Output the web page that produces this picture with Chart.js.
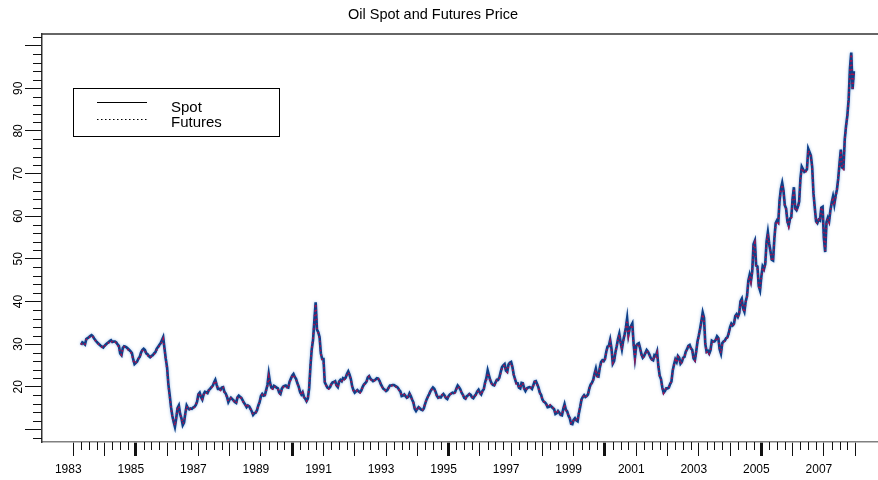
<!DOCTYPE html>
<html>
<head>
<meta charset="utf-8">
<title>Oil Spot and Futures Price</title>
<script src="https://cdn.jsdelivr.net/npm/chart.js@4.4.1/dist/chart.umd.min.js"></script>
<style>
  html, body { margin: 0; padding: 0; background: #fff; }
</style>
</head>
<body>
<canvas id="oil_chart" width="878" height="480"></canvas>
<script>
"use strict";

// half-month samples, first one is April 1983
var startYear = 1983.25;
var yearTicks = [1983, 1984, 1985, 1986, 1987, 1988, 1989, 1990, 1991, 1992, 1993, 1994, 1995,
                 1996, 1997, 1998, 1999, 2000, 2001, 2002, 2003, 2004, 2005, 2006, 2007, 2008];
var yearLabels = [1983, 1985, 1987, 1989, 1991, 1993, 1995, 1997, 1999, 2001, 2003, 2005, 2007];
var priceTicks = [10, 20, 30, 40, 50, 60, 70, 80, 90, 100];
var priceLabels = [20, 30, 40, 50, 60, 70, 80, 90];

var spot = [
    29.8, 30.4, 30.2, 29.9, 31.2, 31.4, 31.6, 31.9, 32.1, 31.8, 31.3, 30.9, 30.5, 30.2, 29.9, 29.6, 29.4, 29.2,
    29.6, 29.9, 30.2, 30.4, 30.7, 30.9, 30.5, 30.6, 30.6, 30.4, 29.9, 29.6, 27.8, 27.4, 29.1, 29.5, 29.4, 29.2, 28.9, 28.6, 28.3, 27.9, 26.4, 25.3,
    25.6, 25.9, 26.6, 27.0, 28.0, 28.6, 28.9, 28.6, 27.8, 27.6, 27.2, 26.9, 27.2, 27.4, 27.8, 28.1, 28.9, 29.3, 29.8, 30.2, 30.9, 31.6, 29.0, 26.5,
    24.5, 20.5, 18.0, 15.2, 13.2, 11.8, 10.6, 12.6, 15.0, 15.6, 13.6, 12.6, 11.0, 11.6, 13.8, 15.6, 15.0, 14.7, 14.9, 14.8, 15.1, 15.3, 15.7, 16.5,
    18.2, 18.6, 17.6, 17.0, 18.2, 18.8, 18.7, 18.5, 19.2, 19.5, 19.9, 20.2, 21.0, 21.6, 20.5, 19.5, 19.5, 19.3, 19.8, 19.9, 18.8, 18.4, 17.6, 16.4,
    17.0, 17.4, 17.1, 16.8, 16.4, 16.2, 17.5, 17.9, 17.6, 17.4, 16.8, 16.2, 15.8, 15.2, 15.6, 15.4, 14.8, 14.2, 13.4, 13.8, 13.9, 14.5, 15.6, 16.4,
    17.8, 18.3, 17.9, 18.0, 19.2, 20.4, 23.0, 20.9, 19.8, 19.6, 20.2, 20.0, 19.8, 19.6, 18.6, 18.3, 19.5, 20.0, 20.2, 20.3, 19.9, 19.8, 21.2, 21.9,
    22.6, 23.0, 22.3, 21.8, 20.8, 20.0, 18.8, 18.2, 18.7, 17.6, 17.2, 16.6, 17.2, 19.6, 24.8, 28.8, 31.0, 35.5, 39.8, 33.4, 32.8, 31.6, 27.8, 26.5,
    26.5, 21.0, 20.4, 19.8, 19.6, 19.9, 20.6, 21.0, 21.1, 21.3, 20.3, 19.9, 21.2, 21.6, 21.3, 22.0, 21.8, 22.1, 23.0, 23.6, 22.8, 21.8, 20.1, 19.2,
    18.6, 18.9, 19.2, 18.9, 18.7, 19.1, 19.9, 20.5, 20.8, 21.2, 22.2, 22.5, 21.9, 21.6, 21.3, 21.5, 21.7, 22.0, 21.9, 21.4, 20.6, 20.0, 19.5, 19.3,
    19.0, 19.2, 19.8, 20.3, 20.3, 20.4, 20.4, 20.2, 20.0, 19.8, 19.3, 18.9, 17.8, 17.9, 18.2, 17.8, 17.4, 17.6, 18.4, 17.8, 17.0, 16.3, 14.8, 14.3,
    14.8, 15.2, 14.9, 14.6, 14.5, 14.9, 16.0, 16.9, 17.6, 18.2, 18.9, 19.4, 19.8, 19.5, 18.8, 17.9, 17.4, 17.6, 17.5, 18.0, 18.3, 17.9, 17.3, 17.1,
    17.8, 18.2, 18.4, 18.6, 18.5, 18.7, 19.6, 20.3, 19.9, 19.4, 18.6, 18.1, 17.4, 17.2, 17.8, 18.0, 18.3, 18.1, 17.5, 17.3, 17.8, 18.2, 18.9, 19.3,
    18.6, 18.2, 19.0, 19.4, 21.0, 22.0, 23.8, 22.6, 21.5, 20.8, 20.4, 20.3, 21.0, 21.6, 21.6, 22.2, 23.5, 24.6, 25.0, 25.3, 23.8, 23.5, 25.2, 25.6,
    25.8, 24.6, 22.8, 21.8, 20.8, 20.8, 19.8, 19.6, 20.9, 20.8, 19.6, 19.0, 19.6, 19.8, 19.9, 19.8, 19.5, 20.3, 21.2, 21.3, 20.6, 19.8, 18.6, 18.1,
    17.0, 16.5, 16.3, 15.9, 15.2, 15.3, 15.6, 15.3, 15.0, 14.7, 13.6, 13.8, 14.3, 13.9, 13.4, 13.3, 14.8, 15.9, 14.6, 14.2, 13.2, 12.6, 11.3, 11.2,
    12.2, 12.6, 12.1, 11.9, 13.8, 15.3, 17.0, 17.6, 18.0, 17.6, 17.8, 18.2, 19.6, 20.5, 20.9, 21.6, 23.0, 24.2, 22.5, 22.4, 24.4, 25.8, 26.2, 26.0,
    26.5, 28.2, 29.4, 29.6, 31.0, 29.0, 25.4, 26.0, 28.0, 29.5, 31.2, 32.4, 30.4, 28.8, 30.8, 32.2, 33.8, 36.0, 32.2, 33.8, 34.2, 34.8, 30.0, 26.8,
    29.6, 30.0, 30.2, 29.0, 27.6, 26.8, 27.2, 27.9, 28.6, 28.2, 27.6, 26.8, 26.4, 26.2, 27.4, 27.2, 28.2, 24.8, 22.6, 21.8, 19.8, 18.6, 19.0, 19.6,
    19.6, 19.8, 20.6, 21.2, 23.8, 25.2, 26.4, 25.8, 27.2, 26.8, 25.4, 25.8, 26.8, 27.0, 28.2, 28.8, 29.6, 29.8, 29.0, 28.6, 26.6, 26.2, 28.2, 30.6,
    32.0, 33.6, 35.4, 37.4, 36.2, 30.0, 28.2, 28.4, 27.8, 28.6, 30.8, 30.6, 30.6, 31.0, 31.8, 31.4, 28.8, 27.8, 30.2, 30.6, 30.8, 31.4, 31.6, 32.6,
    34.0, 34.8, 34.4, 34.8, 36.6, 37.0, 36.4, 37.2, 40.0, 40.6, 38.4, 37.6, 40.0, 41.2, 44.8, 46.2, 44.8, 47.0, 53.4, 54.2, 48.4, 48.2, 43.6, 42.6,
    45.8, 48.2, 47.6, 48.8, 54.0, 56.2, 53.6, 51.8, 49.8, 49.6, 54.8, 58.4, 59.0, 58.6, 63.8, 66.4, 67.8, 66.0, 62.6, 61.8, 58.8, 57.8, 59.4, 59.8,
    64.2, 66.8, 61.8, 61.4, 62.2, 63.4, 68.8, 71.6, 71.0, 70.4, 70.6, 71.0, 75.8, 75.0, 74.2, 71.6, 65.4, 62.0, 58.8, 58.4, 59.2, 59.0, 62.0, 62.2,
    54.8, 51.6, 58.6, 59.6, 58.8, 61.4, 63.2, 64.6, 62.8, 64.8, 66.2, 68.8, 72.4, 75.6, 71.4, 71.2, 78.0, 81.2, 83.6, 87.4, 94.6, 98.4, 89.8, 94.0
];

var futures = [
    29.9, 30.3, 30.1, 30.0, 31.0, 31.5, 31.5, 31.8, 32.0, 31.7, 31.2, 30.8, 30.4, 30.1, 29.8, 29.5, 29.3, 29.1,
    29.5, 29.8, 30.1, 30.3, 30.6, 30.8, 30.4, 30.5, 30.5, 30.2, 29.7, 29.4, 27.9, 27.5, 28.9, 29.3, 29.2, 29.0, 28.7, 28.4, 28.1, 27.6, 26.2, 25.4,
    25.7, 26.0, 26.5, 26.9, 27.8, 28.4, 28.7, 28.4, 27.6, 27.4, 27.0, 26.8, 27.1, 27.3, 27.6, 28.0, 28.6, 29.0, 29.5, 29.9, 30.5, 31.2, 28.6, 26.2,
    24.0, 20.2, 17.6, 15.0, 13.0, 11.9, 10.9, 12.8, 15.2, 15.4, 13.4, 12.8, 11.3, 11.8, 13.6, 15.4, 14.8, 14.6, 14.8, 14.9, 15.0, 15.2, 15.8, 16.4,
    18.1, 18.5, 17.5, 17.1, 18.1, 18.7, 18.6, 18.4, 19.1, 19.3, 19.8, 20.1, 20.8, 21.4, 20.4, 19.6, 19.4, 19.2, 19.7, 19.8, 18.7, 18.3, 17.5, 16.6,
    17.1, 17.3, 17.0, 16.7, 16.3, 16.1, 17.4, 17.7, 17.5, 17.3, 16.7, 16.0, 15.7, 15.1, 15.5, 15.3, 14.7, 14.1, 13.6, 13.9, 14.0, 14.6, 15.5, 16.3,
    17.7, 18.1, 17.8, 17.9, 19.0, 20.2, 22.4, 20.7, 19.7, 19.5, 20.1, 19.9, 19.7, 19.5, 18.5, 18.2, 19.4, 19.9, 20.1, 20.2, 19.8, 19.7, 21.0, 21.7,
    22.4, 22.8, 22.2, 21.7, 20.7, 19.9, 18.7, 18.1, 18.6, 17.5, 17.1, 16.7, 17.3, 19.8, 25.2, 29.0, 31.4, 35.8, 39.4, 33.8, 32.6, 31.4, 27.6, 26.2,
    25.8, 21.2, 20.3, 19.7, 19.5, 19.8, 20.5, 20.9, 21.0, 21.2, 20.2, 19.8, 21.1, 21.5, 21.2, 21.9, 21.7, 22.0, 22.8, 23.4, 22.7, 21.7, 20.0, 19.1,
    18.7, 18.9, 19.1, 18.8, 18.6, 19.0, 19.8, 20.4, 20.7, 21.1, 22.1, 22.4, 21.8, 21.5, 21.2, 21.4, 21.6, 21.9, 21.8, 21.3, 20.5, 19.9, 19.4, 19.2,
    19.1, 19.3, 19.7, 20.2, 20.2, 20.3, 20.3, 20.1, 19.9, 19.7, 19.2, 18.8, 17.9, 18.0, 18.1, 17.7, 17.5, 17.7, 18.3, 17.7, 16.9, 16.2, 14.9, 14.5,
    14.9, 15.3, 14.8, 14.5, 14.6, 15.0, 16.1, 17.0, 17.5, 18.1, 18.8, 19.3, 19.6, 19.3, 18.6, 17.8, 17.3, 17.5, 17.6, 18.1, 18.2, 17.8, 17.4, 17.2,
    17.9, 18.3, 18.3, 18.5, 18.4, 18.6, 19.4, 20.1, 19.8, 19.3, 18.5, 18.0, 17.5, 17.3, 17.7, 17.9, 18.2, 18.0, 17.6, 17.4, 17.7, 18.1, 18.7, 19.1,
    18.5, 18.1, 18.9, 19.3, 20.6, 21.6, 23.2, 22.3, 21.3, 20.7, 20.3, 20.2, 20.9, 21.5, 21.5, 22.0, 23.2, 24.3, 24.8, 25.1, 23.7, 23.4, 25.0, 25.4,
    25.6, 24.4, 22.6, 21.7, 20.7, 20.7, 19.9, 19.7, 20.8, 20.7, 19.5, 19.1, 19.5, 19.7, 19.8, 19.7, 19.6, 20.2, 21.1, 21.2, 20.5, 19.7, 18.5, 18.0,
    17.1, 16.6, 16.2, 15.8, 15.3, 15.4, 15.7, 15.4, 15.1, 14.8, 13.7, 13.9, 14.2, 13.8, 13.5, 13.4, 14.7, 15.8, 14.5, 14.1, 13.3, 12.7, 11.4, 11.5,
    12.3, 12.5, 12.2, 12.0, 14.0, 15.4, 16.9, 17.5, 17.9, 17.5, 17.9, 18.3, 19.5, 20.4, 20.8, 21.5, 22.8, 24.0, 22.4, 22.3, 24.2, 25.6, 26.0, 25.8,
    26.3, 28.0, 29.2, 29.4, 30.6, 28.8, 25.6, 26.1, 27.9, 29.4, 31.0, 32.2, 30.2, 28.6, 30.6, 32.0, 33.6, 35.6, 32.0, 33.6, 34.0, 34.5, 29.8, 26.6,
    29.4, 29.8, 30.0, 28.8, 27.5, 26.7, 27.1, 27.8, 28.5, 28.1, 27.5, 26.7, 26.3, 26.1, 27.3, 27.1, 28.0, 24.6, 22.5, 21.7, 19.7, 18.5, 19.1, 19.7,
    19.7, 19.9, 20.7, 21.3, 23.7, 25.1, 26.2, 25.7, 27.0, 26.7, 25.3, 25.7, 26.7, 26.9, 28.1, 28.7, 29.4, 29.6, 28.9, 28.5, 26.5, 26.1, 28.1, 30.4,
    31.8, 33.4, 35.2, 37.0, 35.8, 29.8, 28.1, 28.3, 27.7, 28.5, 30.6, 30.5, 30.5, 30.9, 31.6, 31.3, 28.7, 27.9, 30.1, 30.5, 30.7, 31.3, 31.5, 32.4,
    33.8, 34.6, 34.3, 34.7, 36.4, 36.8, 36.3, 37.1, 39.8, 40.4, 38.3, 37.5, 39.8, 41.0, 44.6, 46.0, 44.6, 46.8, 53.0, 53.8, 48.2, 48.0, 43.4, 42.8,
    45.6, 48.0, 47.4, 48.6, 53.8, 55.9, 53.4, 51.6, 49.7, 49.5, 54.6, 58.1, 58.8, 58.4, 63.5, 66.1, 67.4, 65.8, 62.4, 61.6, 58.6, 57.6, 59.2, 59.6,
    64.0, 66.5, 61.6, 61.2, 62.0, 63.2, 68.5, 71.3, 70.8, 70.2, 70.4, 70.8, 75.4, 74.8, 74.0, 71.4, 65.2, 61.8, 58.6, 58.3, 59.1, 58.9, 61.8, 62.0,
    54.6, 51.9, 58.4, 59.4, 58.6, 61.2, 63.0, 64.4, 62.6, 64.6, 66.0, 68.6, 72.2, 75.4, 71.2, 71.0, 77.8, 80.9, 83.4, 87.1, 94.3, 98.0, 89.6, 93.6
];

function toPoints(values) {
    return values.map(function (v, i) { return { x: startYear + i / 24, y: v }; });
}

var fontFamily = "'Liberation Sans', Arial, Helvetica, sans-serif";

// frame top line, quarter / 2-unit minor ticks, title and the boxed legend
var oilDecor = {
    id: 'oilDecor',
    beforeDatasetDraw: function (chart, args) {
        if (args.index === 0) {
            chart.ctx.save();
            chart.ctx.shadowColor = 'rgba(110, 160, 220, 0.7)';
            chart.ctx.shadowBlur = 3;
        }
    },
    afterDatasetDraw: function (chart, args) {
        if (args.index === 0) chart.ctx.restore();
    },
    afterDraw: function (chart) {
        var ctx = chart.ctx;
        var area = chart.chartArea;
        var xs = chart.scales.x;
        var ys = chart.scales.y;
        ctx.save();

        ctx.strokeStyle = '#333';
        ctx.lineWidth = 1.5;
        ctx.beginPath();
        ctx.moveTo(area.left, area.top);
        ctx.lineTo(area.right, area.top);
        ctx.stroke();

        ctx.strokeStyle = '#111';
        ctx.lineWidth = 1;
        ctx.beginPath();
        for (var yr = 1983; yr < 2008; yr++) {
            for (var q = 1; q < 4; q++) {
                var px = Math.round(xs.getPixelForValue(yr + q / 4)) + 0.5;
                ctx.moveTo(px, area.bottom);
                ctx.lineTo(px, area.bottom + 8);
            }
        }
        for (var v = 8; v <= 102; v += 2) {
            if (v % 10 === 0) continue;
            var py = Math.round(ys.getPixelForValue(v)) + 0.5;
            ctx.moveTo(area.left - 9, py);
            ctx.lineTo(area.left, py);
        }
        ctx.stroke();

        ctx.fillStyle = '#000';
        ctx.font = '14.5px ' + fontFamily;
        ctx.textAlign = 'center';
        ctx.textBaseline = 'alphabetic';
        ctx.fillText('Oil Spot and Futures Price', 433, 19);

        ctx.strokeStyle = '#000';
        ctx.lineWidth = 1;
        ctx.strokeRect(73.5, 88.5, 206, 48);
        ctx.beginPath();
        ctx.moveTo(97, 102.5);
        ctx.lineTo(147, 102.5);
        ctx.stroke();
        ctx.setLineDash([1.5, 2.5]);
        ctx.beginPath();
        ctx.moveTo(97, 119.5);
        ctx.lineTo(147, 119.5);
        ctx.stroke();
        ctx.setLineDash([]);
        ctx.font = '15px ' + fontFamily;
        ctx.textAlign = 'left';
        ctx.fillText('Spot', 171, 112);
        ctx.fillText('Futures', 171, 127);
        ctx.restore();
    }
};

var oilChart = new Chart(document.getElementById("oil_chart"), {
    type: 'line',
    data: {
        datasets: [
            {
                label: "Spot",
                data: toPoints(spot),
                order: 2,
                borderColor: '#0f3f88',
                borderWidth: 2.6,
                pointRadius: 0,
                tension: 0
            },
            {
                label: "Futures",
                data: toPoints(futures),
                order: 1,
                borderColor: '#a8124f',
                borderWidth: 1.8,
                borderDash: [1.5, 3],
                pointRadius: 0,
                tension: 0
            }
        ]
    },
    options: {
        responsive: false,
        animation: false,
        devicePixelRatio: 1,
        layout: { padding: { top: 34, left: 0, right: 0, bottom: 0 } },
        plugins: {
            legend: { display: false },
            title: { display: false },
            tooltip: { enabled: false }
        },
        scales: {
            x: {
                type: 'linear',
                min: 1982.0,
                max: 2008.73,
                afterBuildTicks: function (scale) {
                    scale.ticks = yearTicks.map(function (y) { return { value: y }; });
                },
                afterFit: function (scale) { scale.height = 38; },
                grid: {
                    drawOnChartArea: false,
                    drawTicks: true,
                    tickLength: 14,
                    color: '#111',
                    lineWidth: function (c) { return (c.tick && c.tick.value % 5 === 0) ? 3 : 1; }
                },
                border: { display: true, color: '#808080', width: 1.5 },
                ticks: {
                    autoSkip: false,
                    maxRotation: 0,
                    padding: 6,
                    labelOffset: -5,
                    color: '#000',
                    font: { family: fontFamily, size: 12 },
                    callback: function (value) { return yearLabels.indexOf(value) >= 0 ? String(value) : ''; }
                }
            },
            y: {
                type: 'linear',
                min: 7.03,
                max: 102.74,
                afterBuildTicks: function (scale) {
                    scale.ticks = priceTicks.map(function (p) { return { value: p }; });
                },
                afterFit: function (scale) { scale.width = 42; },
                grid: {
                    drawOnChartArea: false,
                    drawTicks: true,
                    tickLength: 17,
                    color: '#111',
                    lineWidth: 1
                },
                border: { display: true, color: '#333', width: 1.5 },
                ticks: {
                    minRotation: 90,
                    maxRotation: 90,
                    crossAlign: 'center',
                    padding: 0,
                    color: '#000',
                    font: { family: fontFamily, size: 12 },
                    callback: function (value) { return priceLabels.indexOf(value) >= 0 ? String(value) : ''; }
                }
            }
        }
    },
    plugins: [oilDecor]
});
</script>
</body>
</html>
